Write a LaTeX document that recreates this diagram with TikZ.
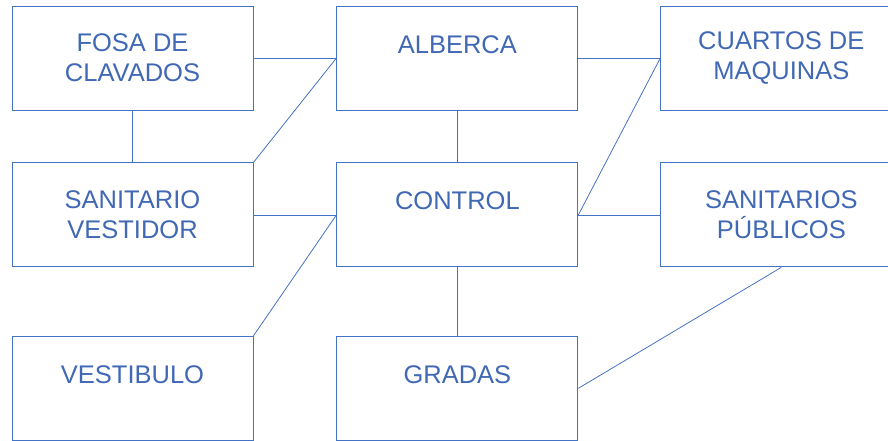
\documentclass[tikz,border=0pt]{standalone}
\usepackage{fontspec}
\setmainfont{Liberation Sans}
\usepackage{tikz}
\usetikzlibrary{positioning}
\definecolor{lineblue}{RGB}{68,114,196}
\definecolor{textblue}{RGB}{64,104,180}

\begin{document}
\begin{tikzpicture}[
    x=1pt, y=1pt,
    node distance=52pt and 83pt,
    box/.style={
        rectangle, draw=lineblue, line width=0.9pt,
        minimum width=241pt, minimum height=104pt,
        inner sep=0pt, align=center,
        font=\fontsize{25.5}{30}\selectfont,
        text=textblue
    },
    oneline/.style={text height=18pt, text depth=28pt},
    conn/.style={line width=0.8pt, color=lineblue},
]
\clip (0,0) rectangle (888,-440);

% Columna izquierda
\node[box] (fosa) at (132.5,-58) {FOSA DE\\CLAVADOS};
\node[box, below=of fosa] (sanitario) {SANITARIO\\VESTIDOR};
\node[box, oneline, below=68.5pt of sanitario] (vestibulo) {VESTIBULO};

% Columna central
\node[box, oneline, right=of fosa] (alberca) {ALBERCA};
\node[box, oneline, right=of sanitario] (control) {CONTROL};
\node[box, oneline, right=of vestibulo] (gradas) {GRADAS};

% Columna derecha
\node[box, right=82pt of alberca] (cuartos) {CUARTOS DE\\MAQUINAS};
\node[box, right=82pt of control] (sanpub) {SANITARIOS\\PÚBLICOS};

% Lineas horizontales
\draw[conn] (fosa.east) -- (alberca.west);
\draw[conn] (alberca.east) -- (cuartos.west);
\draw[conn] (sanitario.east) -- (control.west);
\draw[conn] (control.east) -- (sanpub.west);

% Lineas verticales
\draw[conn] (fosa.south) -- (sanitario.north);
\draw[conn] (alberca.south) -- (control.north);
\draw[conn] (control.south) -- (gradas.north);

% Diagonales
\draw[conn] (sanitario.north east) -- (alberca.west);
\draw[conn] (vestibulo.north east) -- (control.west);
\draw[conn] (control.east) -- (cuartos.west);
\draw[conn] (gradas.east) -- (sanpub.south);

\end{tikzpicture}
\end{document}
